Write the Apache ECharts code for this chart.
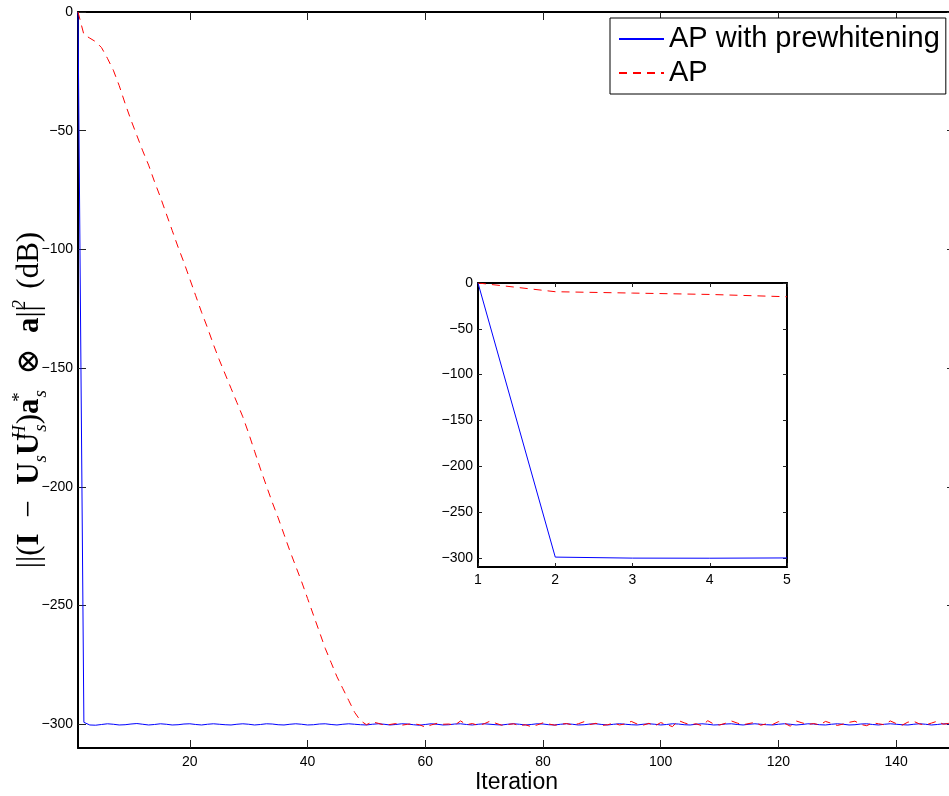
<!DOCTYPE html>
<html>
<head>
<meta charset="utf-8">
<title>AP convergence</title>
<script src="https://cdn.jsdelivr.net/npm/echarts@6/dist/echarts.min.js"></script>
<style>
  html, body { margin: 0; padding: 0; background: #ffffff; }
  #chart { width: 949px; height: 796px; }
</style>
</head>
<body>
<div id="chart"></div>
<script>
// Residual power (dB) per iteration, iterations 1..150
const apPrewhitening = [
  0, -299.2, -300.3, -300.4, -300.1, -299.8, -300.0, -300.3, -300.2, -299.9,
  -299.7, -300.0, -300.3, -300.1, -299.8, -300.0, -300.3, -300.2, -299.9, -299.8,
  -300.1, -300.3, -300.0, -299.8, -300.0, -300.2, -300.3, -300.0, -299.8, -300.0,
  -300.3, -300.1, -299.8, -299.9, -300.2, -300.3, -300.0, -299.8, -300.0, -300.3,
  -300.2, -299.9, -299.8, -300.1, -300.3, -300.0, -299.8, -300.0, -300.2, -300.3,
  -300.0, -299.8, -300.0, -300.3, -300.1, -299.8, -299.9, -300.2, -300.4, -300.1,
  -299.8, -300.0, -300.3, -300.2, -299.9, -299.8, -300.1, -300.3, -300.0, -299.8,
  -300.0, -300.2, -300.3, -300.0, -299.8, -300.0, -300.3, -300.1, -299.8, -299.9,
  -300.2, -300.3, -300.0, -299.8, -300.0, -300.3, -300.2, -299.9, -299.8, -300.1,
  -300.3, -300.0, -299.8, -300.0, -300.2, -300.3, -300.0, -299.8, -300.0, -300.3,
  -300.1, -299.8, -299.9, -300.2, -300.3, -300.0, -299.8, -300.0, -300.3, -300.2,
  -299.9, -299.8, -300.1, -300.3, -300.0, -299.8, -300.0, -300.2, -300.3, -300.0,
  -299.8, -300.0, -300.3, -300.1, -299.8, -299.9, -300.2, -300.3, -300.0, -299.8,
  -300.0, -300.3, -300.2, -299.9, -299.8, -300.1, -300.3, -300.0, -299.8, -300.0,
  -300.2, -300.3, -300.0, -299.8, -300.0, -300.3, -300.1, -299.8, -299.9, -300.2
];

const apPlain = [
  0, -9.5, -11, -12.5, -15, -19.5, -24.5, -31, -38.5, -45.5,
  -52, -58.5, -64.5, -71.5, -78, -85, -92, -99, -105.5, -112.5,
  -119.5, -126.5, -133, -140, -146.5, -152.5, -158.5, -164.5, -170.5, -177.5,
  -185, -192.5, -199.5, -206.5, -213, -220, -227, -233.5, -240, -247,
  -254, -261, -268, -274, -280, -285, -290, -295, -298.5, -300.2,
  -299.0, -299.6, -300.3, -300.1, -299.7, -300.4, -300.0, -299.8, -300.2, -301.2,
  -300.3, -299.6, -300.0, -299.9, -300.4, -298.6, -300.2, -299.7, -300.5, -299.8,
  -298.7, -299.6, -300.4, -300.1, -299.8, -300.6, -300.2, -301.0, -300.3, -299.4,
  -299.9, -300.4, -300.0, -299.7, -300.3, -299.8, -298.9, -300.1, -299.6, -300.5,
  -300.2, -299.5, -300.3, -299.8, -298.8, -299.9, -300.4, -299.6, -300.7, -299.3,
  -300.1, -301.0, -298.4, -299.4, -300.2, -299.8, -300.6, -298.5, -299.9, -300.3,
  -299.6, -298.6, -299.5, -300.2, -299.7, -299.2, -300.4, -299.8, -300.1, -298.9,
  -299.5, -300.8, -298.6, -299.4, -300.1, -299.7, -300.3, -298.8, -299.6, -300.5,
  -299.9, -299.2, -298.7, -300.1, -300.6, -299.4, -299.8, -300.2, -298.6, -299.7,
  -300.4, -299.1, -298.8, -299.9, -300.3, -299.5, -298.7, -300.0, -299.6, -300.2
];

const seriesNames = ['AP with prewhitening', 'AP'];
const mainXTicks = [20, 40, 60, 80, 100, 120, 140];
const mainYTicks = [0, -50, -100, -150, -200, -250, -300];
const insetXTicks = [1, 2, 3, 4, 5];
const insetYTicks = [0, -50, -100, -150, -200, -250, -300];
const insetCount = 5;

// pair each value with its iteration number (1-based)
function toPoints(values, count) {
  const n = count || values.length;
  const out = [];
  for (let i = 0; i < n; i++) out.push([i + 1, values[i]]);
  return out;
}

const SANS = '"Liberation Sans", Arial, Helvetica, sans-serif';
const SERIF = '"Liberation Serif", "DejaVu Serif", serif';
const minusFmt = v => String(v).replace('-', '\u2212');

function frameAxis(opts) {
  return Object.assign({
    type: 'value',
    nameMoveOverlap: false,
    axisLine: { show: true, onZero: false, lineStyle: { color: '#000', width: 2 } },
    axisTick: { show: true, inside: true, length: opts.tickLen, customValues: opts.ticks,
                lineStyle: { color: '#222', width: 1 } },
    axisLabel: opts.labels ? {
      show: true, customValues: opts.ticks, formatter: minusFmt,
      color: '#000', fontFamily: SANS, fontSize: 14, margin: opts.margin
    } : { show: false },
    splitLine: { show: false }
  }, opts.extra || {});
}

// ||(I - U_s U_s^H) a_s^* (x) a||^2 (dB), built as rich text
const SP = '\u2002';
const yTitle =
  '{n|||(}{b|I}{n|' + SP + '\u2212' + SP + '}{b|U}{s|s}{b|U}{h|H}{s|s}{n|)}' +
  '{b|a}{h|*}{s|s}{n|' + SP + '\u2297' + SP + '}{b|a}{n|||}{h|2}{n|' + SP + '(dB)}';

const chart = echarts.init(document.getElementById('chart'), null, { renderer: 'canvas' });

chart.setOption({
  backgroundColor: '#ffffff',
  animation: false,
  grid: [
    { left: 78, top: 12, width: 877, height: 736, show: false,
      containLabel: false, outerBoundsMode: 'none' },
    { left: 478, top: 283, width: 309, height: 284, show: true,
      backgroundColor: '#ffffff', borderWidth: 0,
      containLabel: false, outerBoundsMode: 'none' }
  ],
  legend: {
    data: seriesNames,
    orient: 'vertical',
    left: 610, top: 18,
    padding: [4, 6, 4, 8],
    itemGap: 0,
    itemWidth: 45, itemHeight: 14,
    backgroundColor: '#ffffff',
    borderColor: '#000', borderWidth: 1,
    itemStyle: { opacity: 0 },
    textStyle: { fontFamily: SANS, fontSize: 29, color: '#000', lineHeight: 34 }
  },
  xAxis: [
    frameAxis({ ticks: mainXTicks, tickLen: 8, labels: true, margin: 7, extra: {
      gridIndex: 0, min: 1, max: 150, position: 'bottom',
      name: 'Iteration', nameLocation: 'middle', nameGap: 23,
      nameTextStyle: { fontFamily: SANS, fontSize: 23, color: '#000' }
    }}),
    frameAxis({ ticks: mainXTicks, tickLen: 8, labels: false, extra: {
      gridIndex: 0, min: 1, max: 150, position: 'top'
    }}),
    frameAxis({ ticks: insetXTicks, tickLen: 4, labels: true, margin: 6, extra: {
      gridIndex: 1, min: 1, max: 5, position: 'bottom'
    }}),
    frameAxis({ ticks: insetXTicks, tickLen: 4, labels: false, extra: {
      gridIndex: 1, min: 1, max: 5, position: 'top'
    }})
  ],
  yAxis: [
    frameAxis({ ticks: mainYTicks, tickLen: 8, labels: true, margin: 5, extra: {
      gridIndex: 0, min: -310, max: 0, position: 'left',
      name: yTitle,
      nameLocation: 'middle', nameRotate: 90, nameGap: 28,
      nameTextStyle: {
        padding: [0, 40, 0, 0],
        rich: {
          n: { fontFamily: SERIF, fontSize: 31, lineHeight: 40, color: '#000', verticalAlign: 'middle' },
          b: { fontFamily: SERIF, fontSize: 31, lineHeight: 40, color: '#000', fontWeight: 'bold', verticalAlign: 'middle' },
          h: { fontFamily: SERIF, fontSize: 19, lineHeight: 18, color: '#000', fontStyle: 'italic', verticalAlign: 'top', width: 1 },
          s: { fontFamily: SERIF, fontSize: 19, lineHeight: 18, color: '#000', fontStyle: 'italic', verticalAlign: 'bottom' }
        }
      }
    }}),
    frameAxis({ ticks: mainYTicks, tickLen: 8, labels: false, extra: {
      gridIndex: 0, min: -310, max: 0, position: 'right'
    }}),
    frameAxis({ ticks: insetYTicks, tickLen: 4, labels: true, margin: 5, extra: {
      gridIndex: 1, min: -310, max: 0, position: 'left'
    }}),
    frameAxis({ ticks: insetYTicks, tickLen: 4, labels: false, extra: {
      gridIndex: 1, min: -310, max: 0, position: 'right'
    }})
  ],
  series: [
    { name: seriesNames[0], type: 'line', xAxisIndex: 0, yAxisIndex: 0,
      data: toPoints(apPrewhitening), symbol: 'none', z: 3,
      itemStyle: { color: '#0000ff' },
      lineStyle: { color: '#0000ff', width: 1 } },
    { name: seriesNames[1], type: 'line', xAxisIndex: 0, yAxisIndex: 0,
      data: toPoints(apPlain), symbol: 'none', z: 4,
      itemStyle: { color: '#ff0000' },
      lineStyle: { color: '#ff0000', width: 1, type: [8, 6] } },
    { name: seriesNames[0], type: 'line', xAxisIndex: 2, yAxisIndex: 2,
      data: toPoints(apPrewhitening, insetCount), symbol: 'none', z: 3,
      itemStyle: { color: '#0000ff' },
      lineStyle: { color: '#0000ff', width: 1 } },
    { name: seriesNames[1], type: 'line', xAxisIndex: 2, yAxisIndex: 2,
      data: toPoints(apPlain, insetCount), symbol: 'none', z: 4,
      itemStyle: { color: '#ff0000' },
      lineStyle: { color: '#ff0000', width: 1, type: [8, 6] } }
  ]
});
</script>
</body>
</html>
